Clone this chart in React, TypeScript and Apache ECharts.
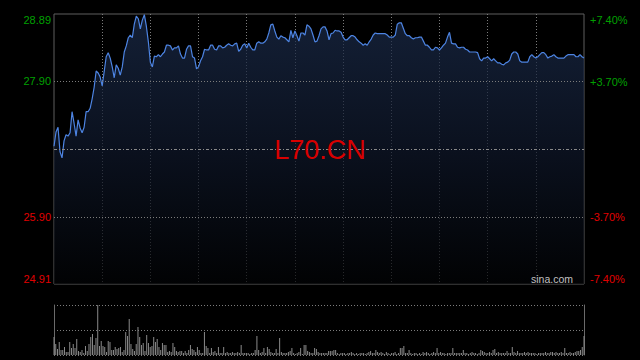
import React, { useEffect, useRef } from "react";
import * as echarts from "echarts";

// Intraday price, one point per step (265 steps across the session)
const prices: number[] = [
  26.94, 27.15, 27.22, 26.86, 26.77, 27.02, 27.11, 27.09, 27.14, 27.45,
  27.28, 27.09, 27.33, 27.21, 27.14, 27.22, 27.45, 27.45, 27.5, 27.64,
  27.81, 28.05, 28.02, 27.96, 27.83, 28.04, 28.26, 28.32, 28.24, 28.11,
  27.95, 28.14, 28.09, 27.99, 28.11, 28.33, 28.42, 28.54, 28.58, 28.54,
  28.74, 28.86, 28.82, 28.67, 28.8, 28.88, 28.71, 28.48, 28.18, 28.11,
  28.27, 28.26, 28.29, 28.26, 28.3, 28.33, 28.43, 28.43, 28.42, 28.36,
  28.39, 28.39, 28.42, 28.3, 28.24, 28.24, 28.37, 28.42, 28.42, 28.26,
  28.24, 28.08, 28.11, 28.2, 28.26, 28.37, 28.36, 28.36, 28.43, 28.43,
  28.37, 28.36, 28.42, 28.42, 28.39, 28.4, 28.43, 28.45, 28.43, 28.42,
  28.45, 28.46, 28.34, 28.37, 28.43, 28.45, 28.39, 28.46, 28.4, 28.36,
  28.36, 28.46, 28.48, 28.46, 28.46, 28.48, 28.52, 28.61, 28.73, 28.74,
  28.64, 28.55, 28.52, 28.57, 28.55, 28.54, 28.51, 28.48, 28.65, 28.54,
  28.64, 28.57, 28.49, 28.61, 28.61, 28.58, 28.73, 28.71, 28.67, 28.58,
  28.48, 28.49, 28.57, 28.67, 28.7, 28.7, 28.64, 28.51, 28.6, 28.61,
  28.65, 28.64, 28.64, 28.62, 28.55, 28.51, 28.51, 28.54, 28.57, 28.57,
  28.55, 28.51, 28.48, 28.46, 28.43, 28.45, 28.43, 28.48, 28.52, 28.58,
  28.61, 28.6, 28.6, 28.6, 28.6, 28.6, 28.58, 28.55, 28.55, 28.55,
  28.58, 28.74, 28.76, 28.76, 28.68, 28.6, 28.57, 28.57, 28.54, 28.52,
  28.54, 28.54, 28.55, 28.55, 28.49, 28.43, 28.43, 28.4, 28.36, 28.36,
  28.4, 28.39, 28.36, 28.39, 28.43, 28.46, 28.55, 28.62, 28.46, 28.45,
  28.45, 28.4, 28.39, 28.4, 28.4, 28.37, 28.36, 28.33, 28.33, 28.33,
  28.33, 28.32, 28.23, 28.2, 28.24, 28.24, 28.26, 28.23, 28.2, 28.23,
  28.2, 28.17, 28.17, 28.15, 28.14, 28.17, 28.18, 28.21, 28.3, 28.33,
  28.33, 28.3, 28.2, 28.18, 28.18, 28.18, 28.18, 28.26, 28.29, 28.26,
  28.24, 28.26, 28.29, 28.32, 28.32, 28.29, 28.24, 28.26, 28.27, 28.29,
  28.26, 28.24, 28.24, 28.24, 28.24, 28.27, 28.29, 28.29, 28.29, 28.29,
  28.26, 28.26, 28.29, 28.26, 28.24,
];

// Traded volume per bar (relative units)
const volumes: number[] = [
  18, 11, 6, 13, 5, 5, 8, 3, 3, 13, 7, 11, 7, 16, 4, 3, 5, 2, 9, 4,
  11, 18, 21, 10, 17, 50, 9, 14, 9, 8, 3, 14, 13, 5, 5, 8, 6, 7, 8, 3,
  5, 23, 19, 36, 11, 6, 4, 11, 28, 18, 10, 12, 4, 20, 12, 8, 9, 18, 13, 16,
  8, 5, 12, 10, 10, 3, 4, 3, 12, 8, 4, 3, 4, 4, 2, 4, 2, 5, 10, 6,
  5, 3, 8, 5, 2, 2, 23, 9, 7, 2, 7, 3, 4, 2, 8, 2, 2, 8, 2, 3,
  2, 2, 3, 2, 2, 3,
  2, 10, 2, 2, 2, 2, 1, 2, 2, 5, 19, 5, 2, 3, 7, 2, 8, 6, 3, 2,
  2, 6, 2, 17, 3, 2, 2, 2, 3, 4, 7, 2, 1, 2, 3, 7, 1, 10, 10, 4,
  3, 2, 2, 7, 6, 3, 2, 2, 2, 2, 2, 4, 4, 4, 5, 5, 2, 1, 2, 2,
  2, 1, 2, 2, 3, 2, 1, 2, 1, 2, 2, 2, 1, 2, 3, 4, 2, 2, 5, 3,
  2, 3, 2, 1, 3, 2, 1, 2, 2, 3, 1, 2, 7, 7, 9, 2, 2,
  5, 2, 1, 2, 2, 1, 2, 1, 3, 2, 3, 2, 1, 2, 3, 2, 7, 2, 3, 2,
  2, 1, 2, 2, 2, 7, 2, 2, 2, 2, 2, 5, 2, 2, 1, 2, 3, 2, 2, 1,
  2, 5, 4, 3, 2, 2, 3, 2, 5, 6, 2, 3, 2, 2, 2, 2, 4, 2, 2, 8,
  3, 2, 4, 2, 2, 2, 3, 2, 3, 2, 2, 2, 2, 1, 2, 2, 2, 2, 3, 2,
  2, 3, 3, 2, 3, 2, 2, 3, 2, 7, 2, 2, 3, 2, 2, 3, 4, 4, 5, 8, 19,
];

const prevClose = 26.9;
const priceMin = 24.91;
const priceMax = 28.89;
const priceTicks = [24.91, 25.9, 27.9, 28.89];
const pctTicks = [-7.4, -3.7, 3.7, 7.4];
const pctMax = 7.4;
const gridPrices = [25.9, 27.9];
const symbol = "L70.CN";
const source = "sina.com";

const GREEN = "#00a000";
const RED = "#e00000";

export default function App() {
  const ref = useRef<HTMLDivElement>(null);

  useEffect(() => {
    if (!ref.current) return;
    const chart = echarts.init(ref.current, undefined, { renderer: "svg" });
    const steps = prices.map((_, i) => String(i));
    const volSteps = volumes.map((_, i) => String(i));
    const stepCount = prices.length - 1;
    const seg = stepCount / 11;

    const dotted = { color: "#7c7c7c", type: [1, 2] as number[], width: 1 };

    chart.setOption({
      animation: false,
      backgroundColor: "#000000",
      textStyle: { fontFamily: "Arial, 'Liberation Sans', sans-serif" },
      grid: [
        {
          left: 54,
          right: 56,
          top: 14,
          height: 270,
          show: true,
          borderColor: "#5e5e5e",
          borderWidth: 1,
          backgroundColor: "transparent",
        },
        { left: 54, right: 56, top: 305, height: 50 },
      ],
      xAxis: [
        {
          type: "category",
          gridIndex: 0,
          data: steps,
          boundaryGap: false,
          axisLine: { show: false },
          axisTick: { show: false },
          axisLabel: { show: false },
          splitLine: {
            show: true,
            interval: (i: number) => i > 0 && i < stepCount && i % seg === 0,
            lineStyle: dotted,
          },
        },
        {
          type: "category",
          gridIndex: 1,
          data: volSteps,
          boundaryGap: false,
          axisLine: { show: false },
          axisTick: { show: false },
          axisLabel: { show: false },
          splitLine: { show: false },
        },
      ],
      yAxis: [
        {
          type: "value",
          gridIndex: 0,
          position: "left",
          min: priceMin,
          max: priceMax,
          axisLine: { show: false },
          axisTick: { show: false },
          splitLine: { show: false },
          axisLabel: {
            customValues: priceTicks,
            formatter: (v: number) => Number(v).toFixed(2),
            color: (v: any) => (parseFloat(v) > prevClose ? GREEN : RED),
            fontSize: 11,
            fontFamily: "Arial, 'Liberation Sans', sans-serif",
            margin: 3,
            verticalAlignMinLabel: "bottom",
            verticalAlignMaxLabel: "top",
          },
        },
        {
          type: "value",
          gridIndex: 0,
          position: "right",
          min: -pctMax,
          max: pctMax,
          axisLine: { show: false },
          axisTick: { show: false },
          splitLine: { show: false },
          axisLabel: {
            customValues: pctTicks,
            formatter: (v: number) =>
              (Number(v) > 0 ? "+" : "") + Number(v).toFixed(2) + "%",
            color: (v: any) => (parseFloat(v) > 0 ? GREEN : RED),
            fontSize: 11,
            fontFamily: "Arial, 'Liberation Sans', sans-serif",
            margin: 6,
            verticalAlignMinLabel: "bottom",
            verticalAlignMaxLabel: "top",
          },
        },
        {
          type: "value",
          gridIndex: 1,
          position: "left",
          min: 0,
          max: 50,
          interval: 25,
          axisLine: { show: true, lineStyle: { color: "#6a6a6a", width: 1 } },
          axisTick: { show: false },
          axisLabel: { show: false },
          splitLine: { show: true, lineStyle: dotted },
        },
        {
          type: "value",
          gridIndex: 1,
          position: "right",
          min: 0,
          max: 50,
          interval: 25,
          axisLine: { show: true, lineStyle: { color: "#6a6a6a", width: 1 } },
          axisTick: { show: false },
          axisLabel: { show: false },
          splitLine: { show: false },
        },
      ],
      series: [
        {
          type: "line",
          xAxisIndex: 0,
          yAxisIndex: 0,
          data: prices,
          symbol: "none",
          lineStyle: { color: "#4d84e2", width: 1.2 },
          areaStyle: {
            origin: "start",
            color: new echarts.graphic.LinearGradient(0, 0, 0, 1, [
              { offset: 0, color: "#1c2d4d" },
              { offset: 0.5, color: "#0f182b" },
              { offset: 1, color: "#020305" },
            ]),
          },
          markLine: {
            silent: true,
            symbol: "none",
            label: { show: false },
            data: [
              ...gridPrices.map((p) => ({ yAxis: p, lineStyle: dotted })),
              {
                yAxis: prevClose,
                lineStyle: { color: "#8a8a8a", type: [3, 2, 1, 2], width: 1 },
              },
            ],
          },
          z: 3,
        },
        {
          type: "bar",
          xAxisIndex: 1,
          yAxisIndex: 2,
          data: volumes,
          barWidth: 1,
          itemStyle: { color: "#8a8a8a" },
        },
      ],
      graphic: [
        {
          type: "text",
          left: "center",
          top: 136,
          style: {
            text: symbol,
            fill: "#d80000",
            fontSize: 27,
            fontFamily: "Arial, 'Liberation Sans', sans-serif",
          },
          z: 10,
        },
        {
          type: "text",
          right: 67,
          top: 273,
          style: {
            text: source,
            fill: "#c0c0c0",
            fontSize: 10.5,
            fontFamily: "Arial, 'Liberation Sans', sans-serif",
          },
          z: 10,
        },
      ],
    });

    return () => chart.dispose();
  }, []);

  return (
    <div
      ref={ref}
      style={{ position: "fixed", left: 0, top: 0, width: 640, height: 360 }}
    />
  );
}
